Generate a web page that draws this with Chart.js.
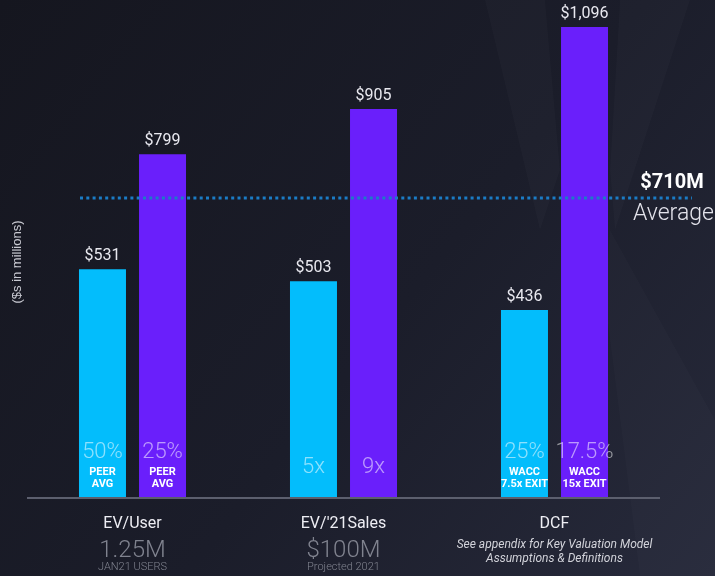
<!DOCTYPE html>
<html>
<head>
<meta charset="utf-8">
<script src="https://cdn.jsdelivr.net/npm/chart.js@4"></script>
<style>
  html, body { margin: 0; padding: 0; background: #171923; overflow: hidden; }
  #wrap { width: 715px; height: 576px; position: relative; }
</style>
</head>
<body>
<div id="wrap"><canvas id="valuation" width="715" height="576"></canvas></div>
<script>
const categories = ["EV/User", "EV/'21Sales", "DCF"];
const lowValues = [531, 503, 436];
const highValues = [799, 905, 1096];
const lowBig = ["50%", "5x", "25%"];
const lowSmall = [["PEER", "AVG"], [], ["WACC", "7.5x EXIT"]];
const highBig = ["25%", "9x", "17.5%"];
const highSmall = [["PEER", "AVG"], [], ["WACC", "15x EXIT"]];
const subBig = ["1.25M", "$100M", null];
const subSmall = ["JAN21 USERS", "Projected 2021", null];
const dcfNote = ["See appendix for Key Valuation Model", "Assumptions & Definitions"];
const averageValue = 697; // where the dotted line sits in the picture
const averageLabel = "$710M";

const cyan = "#03bdfc";
const purple = "#6a1ffb";

const decor = {
  id: "decor",
  beforeDraw(chart) {
    const ctx = chart.ctx;
    const w = chart.width, h = chart.height;
    ctx.save();
    const g = ctx.createLinearGradient(0, 0, w, h);
    g.addColorStop(0, "#15161f");
    g.addColorStop(0.55, "#1b1d2a");
    g.addColorStop(1, "#272a3b");
    ctx.fillStyle = g;
    ctx.fillRect(0, 0, w, h);
    // faint watermark wedges
    ctx.fillStyle = "rgba(255,255,255,0.018)";
    ctx.beginPath();
    ctx.moveTo(485, 0); ctx.lineTo(545, 0); ctx.lineTo(560, 170); ctx.lineTo(540, 230);
    ctx.closePath(); ctx.fill();
    ctx.beginPath();
    ctx.moveTo(620, 0); ctx.lineTo(690, 0); ctx.lineTo(615, 230); ctx.lineTo(610, 170);
    ctx.closePath(); ctx.fill();
    ctx.fillStyle = "rgba(255,255,255,0.015)";
    ctx.beginPath();
    ctx.moveTo(610, 230); ctx.lineTo(715, 420); ctx.lineTo(715, 576); ctx.lineTo(640, 576); ctx.lineTo(605, 300);
    ctx.closePath(); ctx.fill();
    ctx.restore();
  },
  afterDatasetsDraw(chart) {
    const ctx = chart.ctx;
    const x = chart.scales.x, y = chart.scales.y;
    const area = chart.chartArea;
    ctx.save();
    // baseline
    ctx.strokeStyle = "#5c5f6e";
    ctx.lineWidth = 2;
    ctx.beginPath();
    ctx.moveTo(area.left, area.bottom + 1);
    ctx.lineTo(area.right, area.bottom + 1);
    ctx.stroke();

    // average dotted line
    const ay = y.getPixelForValue(averageValue);
    ctx.strokeStyle = "#1b7cc6";
    ctx.lineWidth = 3;
    ctx.setLineDash([3, 3.3]);
    ctx.beginPath();
    ctx.moveTo(80, ay);
    ctx.lineTo(692, ay);
    ctx.stroke();
    ctx.setLineDash([]);

    ctx.textAlign = "center";
    ctx.textBaseline = "middle";
    ctx.fillStyle = "#ffffff";
    ctx.font = "bold 20px Roboto";
    ctx.fillText(averageLabel, 672, ay - 15);
    ctx.fillStyle = "#e4e4ec";
    ctx.font = "300 23px Roboto";
    ctx.textAlign = "left";
    ctx.fillText("Average", 633, ay + 16);

    // bar labels
    ctx.textAlign = "center";
    const sets = [
      { meta: chart.getDatasetMeta(0), vals: lowValues, big: lowBig, small: lowSmall },
      { meta: chart.getDatasetMeta(1), vals: highValues, big: highBig, small: highSmall }
    ];
    sets.forEach(s => {
      s.meta.data.forEach((bar, i) => {
        ctx.fillStyle = "#e8e8ef";
        ctx.font = "16px Roboto";
        ctx.fillText("$" + s.vals[i].toLocaleString("en-US"), bar.x, bar.y - 13);
        const lines = s.small[i];
        ctx.fillStyle = "rgba(255,255,255,0.55)";
        ctx.font = "300 22px Roboto";
        ctx.fillText(s.big[i], bar.x, lines.length ? area.bottom - 45 : area.bottom - 30);
        ctx.fillStyle = "#ffffff";
        ctx.font = "bold 11px Roboto";
        lines.forEach((t, k) => ctx.fillText(t, bar.x, area.bottom - 25 + k * 12));
      });
    });

    // category labels underneath
    categories.forEach((c, i) => {
      const cx = x.getPixelForValue(i);
      ctx.fillStyle = "#eeeef4";
      ctx.font = "16px Roboto";
      ctx.fillText(c, cx, area.bottom + 27);
      if (subBig[i]) {
        ctx.fillStyle = "#80838f";
        ctx.font = "300 24px Roboto";
        ctx.fillText(subBig[i], cx, area.bottom + 54);
        ctx.font = "300 11px Roboto";
        ctx.fillText(subSmall[i], cx, area.bottom + 70);
      } else {
        ctx.fillStyle = "#d2d3da";
        ctx.font = "italic 12px Roboto";
        ctx.fillText(dcfNote[0], cx, area.bottom + 48);
        ctx.fillText(dcfNote[1], cx, area.bottom + 62);
      }
    });

    // y label
    ctx.save();
    ctx.translate(17, 262);
    ctx.rotate(-Math.PI / 2);
    ctx.fillStyle = "#c9cad2";
    ctx.font = "13px 'Liberation Sans', Arial";
    ctx.fillText("($s in millions)", 0, 0);
    ctx.restore();
    ctx.restore();
  }
};

new Chart(document.getElementById("valuation"), {
  type: "bar",
  data: {
    labels: categories,
    datasets: [
      { label: "Low", data: lowValues, backgroundColor: cyan, barPercentage: 0.783, categoryPercentage: 0.569 },
      { label: "High", data: highValues, backgroundColor: purple, barPercentage: 0.783, categoryPercentage: 0.569 }
    ]
  },
  options: {
    responsive: false,
    animation: false,
    devicePixelRatio: 1,
    layout: { padding: { left: 27, right: 55, top: 27, bottom: 79 } },
    plugins: { legend: { display: false }, tooltip: { enabled: false } },
    scales: {
      x: { display: false },
      y: { display: false, min: 0, max: 1096 }
    }
  },
  plugins: [decor]
});
</script>
</body>
</html>
